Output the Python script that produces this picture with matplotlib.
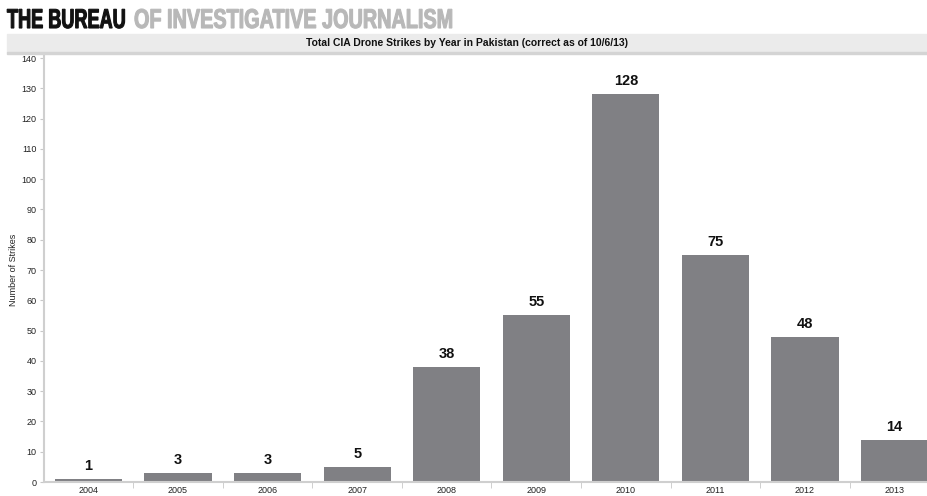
import matplotlib.pyplot as plt
from matplotlib.patches import Rectangle
from matplotlib.patheffects import AbstractPathEffect
from matplotlib.transforms import Affine2D

plt.rcParams['font.family'] = ['Liberation Sans', 'DejaVu Sans']

years = ['2004', '2005', '2006', '2007', '2008', '2009', '2010', '2011', '2012', '2013']
strikes = [1, 3, 3, 5, 38, 55, 128, 75, 48, 14]
yticks = list(range(0, 141, 10))

W, H = 928, 496
fig = plt.figure(figsize=(W / 100, H / 100), dpi=100)


class Tall(AbstractPathEffect):
    # stretch glyphs vertically about the baseline and thicken them a bit
    def __init__(self, y0, s, lw=0.8):
        super().__init__()
        self.y0, self.s, self.lw = y0, s, lw

    def draw_path(self, renderer, gc, tpath, affine, rgbFace=None):
        t = affine + Affine2D().translate(0, -self.y0).scale(1, self.s).translate(0, self.y0)
        renderer.draw_path(gc, tpath, t, rgbFace)
        gc0 = renderer.new_gc()
        gc0.copy_properties(gc)
        gc0.set_linewidth(self.lw)
        gc0.set_foreground(rgbFace)
        gc0.set_joinstyle('miter')
        renderer.draw_path(gc0, tpath, t, None)
        gc0.restore()


# header: fit each part to its width, then stretch to the cap height
base_y = H - 28
parts = [('THE BUREAU', '#111111', 7, 119), ('OF INVESTIGATIVE JOURNALISM', '#b8b8b8', 134, 320)]
heads = []
for s, c, x0, wd in parts:
    t = fig.text(x0 / W, base_y / H, s, fontsize=14, fontweight='bold',
                 color=c, va='baseline', ha='left')
    heads.append((t, wd))
fig.canvas.draw()
r = fig.canvas.get_renderer()
for t, wd in heads:
    fs = 14 * wd / t.get_window_extent(r).width
    t.set_fontsize(fs)
    cap = 0.716 * fs * 100 / 72
    t.set_path_effects([Tall(base_y, 19.5 / cap)])

# title band
fig.patches.append(Rectangle((7 / W, 1 - 52 / H), 1 - 7 / W, 18 / H,
                             transform=fig.transFigure, color='#ebebeb', zorder=0))
fig.patches.append(Rectangle((7 / W, 1 - 54 / H), 1 - 7 / W, 1.5 / H,
                             transform=fig.transFigure, color='#d4d4d4', zorder=0))
fig.text(467 / W, 1 - 43 / H, 'Total CIA Drone Strikes by Year in Pakistan (correct as of 10/6/13)',
         fontsize=7.5, fontweight='bold', color='#111111', ha='center', va='center')

# plot area runs a little past the right edge of the image, as in the original
ax = fig.add_axes([43.7 / W, 1 - 482 / H, (939.3 - 43.7) / W, (482 - 55) / H])
x = list(range(len(years)))
ax.bar(x, strikes, width=0.75, color='#808084', zorder=2)
for xi, v in zip(x, strikes):
    ax.text(xi, v + 2, str(v), ha='center', va='bottom', fontsize=10.5,
            fontweight='bold', color='#111111')

ax.set_xlim(-0.5, len(years) - 0.5)
ax.set_ylim(0, 141)
ax.set_yticks(yticks)
ax.set_yticklabels([str(t) for t in yticks], fontsize=6.5, color='#222222')
ax.set_xticks(x)
ax.set_xticklabels(years, fontsize=6.5, color='#222222')
ax.tick_params(axis='x', length=0, pad=3)
ax.set_xticks([i + 0.5 for i in x[:-1]], minor=True)
ax.tick_params(axis='x', which='minor', length=4, color='#c8c8c8')
ax.tick_params(axis='y', length=3, color='#c8c8c8', pad=2)
for s in ['top', 'right']:
    ax.spines[s].set_visible(False)
for s in ['left', 'bottom']:
    ax.spines[s].set_color('#cfcfcf')
    ax.spines[s].set_linewidth(1.5)
fig.text(14 / W, 1 - 270 / H, 'Number of Strikes', fontsize=6.5, color='#222222',
         rotation=90, ha='center', va='center')

fig.savefig('out.png', dpi=100)
